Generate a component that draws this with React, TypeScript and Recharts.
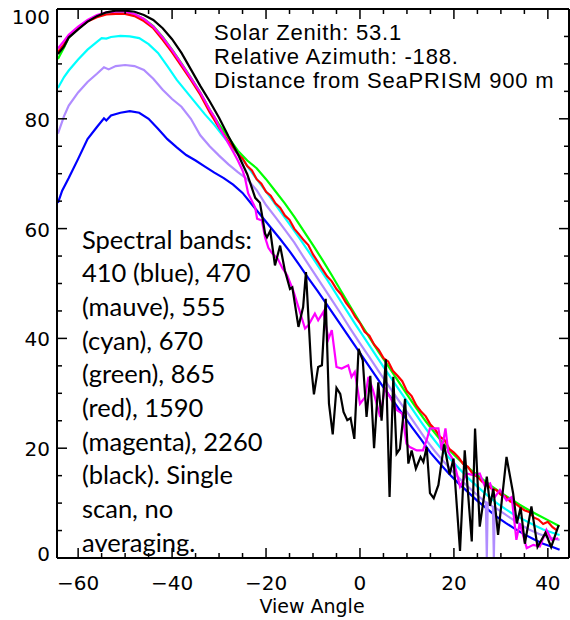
import { Line, LineChart, XAxis, YAxis } from 'recharts'

type Pt = [number, number]

// [view angle, radiance %], one list per band
const blue410: Pt[] = [
  [-64.3, 64.7], [-63.4, 66.9], [-62, 69.2], [-60, 72.7], [-58, 76.3], [-56, 78.5], [-54.5, 80.1],
  [-54, 79.7], [-53, 80.6], [-51, 81.1], [-49, 81.4], [-47, 81.1], [-45, 80], [-43, 78.2], [-41, 76.3],
  [-39, 74.8], [-37, 73.4], [-35, 72.4], [-33, 71.3], [-31, 70.2], [-29, 69.2], [-27, 68], [-25, 66.5],
  [-23, 64.4], [-21, 62.3], [-19, 60.2], [-17, 58.1], [-15, 55.9], [-13, 53.5], [-11, 51], [-9, 48.6],
  [-7, 46.1], [-5, 43.6], [-3, 41.1], [-1, 38.6], [1, 36.1], [3, 33.6], [5, 31.1], [7, 28.7], [9, 26.3],
  [11, 23.9], [13, 21.6], [15, 19.2], [17, 17.2], [19, 15.3], [21, 13.6], [23, 12], [25, 10.4], [27, 9],
  [29, 7.6], [31, 6.4], [33, 5.3], [35, 4.3], [37, 3.4], [39, 2.6], [41, 2], [42.5, 1.5],
]

const mauve470: Pt[] = [
  [-64.3, 77.3], [-63, 80.5], [-62, 82.4], [-60, 84.8], [-58, 86.7], [-56, 88.2], [-54.5, 89.4],
  [-53.5, 89], [-52, 89.6], [-50, 89.8], [-48, 89.6], [-46, 88.9], [-44, 87.3], [-42, 85.3], [-40, 83.6],
  [-38, 82.2], [-36, 80], [-34, 77], [-32, 75], [-30, 73.3], [-28, 71.7], [-26, 70.3], [-24, 69],
  [-22, 67], [-20, 64.3], [-18, 62.1], [-16, 59.8], [-14, 57.5], [-12, 54.8], [-10, 52.2], [-8, 49.6],
  [-6, 47], [-4, 44.4], [-2, 41.7], [0, 39.1], [2, 36.6], [4, 34], [6, 31.5], [8, 29], [10, 26.6],
  [12, 24.1], [14, 21.6], [16, 19.4], [18, 17.4], [20, 15.5], [22, 13.8], [24, 12.2], [26, 10.7],
  [26.8, 10.1], [27, 0], [27.2, 10], [28, 9.5], [28.3, 9.3], [28.5, 0], [28.7, 9.2], [30, 8.5], [32, 7.3],
  [34, 6.2], [36, 5.2], [38, 4.4], [40, 3.8], [42.5, 3.3],
]

const cyan555: Pt[] = [
  [-64.3, 85.6], [-63, 87.6], [-62, 88.8], [-60, 90.8], [-58, 92.6], [-56, 94], [-55, 94.7], [-54, 94.6],
  [-53, 94.9], [-51, 95.1], [-49, 95], [-47, 94.7], [-45, 93.6], [-43, 92], [-41, 89.6], [-39, 87.1],
  [-37, 85], [-35, 82.9], [-33, 80.8], [-31, 78.9], [-29, 76.7], [-27, 74.6], [-25, 72.6], [-23, 70.2],
  [-21, 67.9], [-19, 65.6], [-17, 63.2], [-15, 60.8], [-13, 58.4], [-11, 55.9], [-9, 53.3], [-7, 50.7],
  [-5, 48], [-3, 45.3], [-1, 42.6], [1, 40], [3, 37.4], [5, 34.8], [7, 32.3], [9, 29.8], [11, 27.3],
  [13, 24.8], [15, 22.4], [17, 20.2], [19, 18.2], [21, 16.4], [23, 14.6], [25, 13], [27, 11.5],
  [29, 10.1], [31, 8.9], [33, 7.8], [35, 6.9], [37, 6], [39, 5.2], [41, 4.6], [42.5, 4.2],
]

const green670: Pt[] = [
  [-64.3, 90.9], [-63, 93], [-62, 94.8], [-60, 96.5], [-58, 97.8], [-56, 98.7], [-54, 99.2], [-52, 99.4],
  [-50, 99.4], [-48, 99], [-46, 98.2], [-44, 96.9], [-42, 94.9], [-40, 92.6], [-38, 90.1], [-36, 87.5],
  [-34, 84.8], [-32, 81.7], [-30, 79], [-28, 76.6], [-26, 74.2], [-24, 72.4], [-22, 71], [-20, 69],
  [-18, 66.8], [-16, 64.6], [-14, 62.2], [-12, 59.6], [-10, 57], [-8, 54.3], [-6, 51.5], [-4, 48.6],
  [-2, 45.7], [0, 42.9], [2, 40.2], [4, 37.5], [6, 35], [8, 32.4], [10, 29.8], [12, 27.3], [14, 24.9],
  [16, 22.7], [18, 20.6], [20, 18.8], [22, 17.2], [24, 15.8], [26, 14.4], [28, 13.1], [30, 11.9],
  [32, 10.8], [34, 9.7], [36, 8.7], [38, 7.8], [40, 6.9], [42.5, 5.8],
]

const red865: Pt[] = [
  [-64.3, 92.2], [-63, 93.6], [-62, 95], [-60, 96.5], [-58, 97.7], [-56, 98.5], [-54, 99], [-52, 99.1],
  [-50, 99.1], [-48, 98.7], [-46, 97.8], [-44, 96.5], [-42, 94.4], [-40, 92.1], [-38, 89.6], [-36, 87.1],
  [-34, 84.4], [-32, 81.2], [-30, 78.4], [-28, 75.9], [-27, 74.8], [-26, 73.6], [-25, 72.8], [-24, 71.4],
  [-23, 70.6], [-22, 69], [-21, 68.2], [-20, 66.7], [-19, 66], [-18, 64.6], [-17, 63.8], [-16, 62.4],
  [-15, 61.6], [-14, 60], [-13, 59], [-12, 57.9], [-11, 57], [-10, 55.3], [-9, 54], [-8, 52.6], [-7, 51.3],
  [-6, 50.4], [-5, 49], [-4, 48], [-3, 46.5], [-2, 45.4], [-1, 43.9], [0, 42.8], [1, 41.2], [2, 40.5],
  [3, 38.9], [4, 37.9], [5, 36.4], [6, 35.8], [7, 34.1], [8, 33.2], [9, 32.2], [10, 30.4], [11, 29.5],
  [12, 27.8], [13, 26.7], [14, 25.8], [15, 24.3], [16, 23.4], [17, 22.1], [18, 21.5], [19, 19.9],
  [20, 19.2], [21, 18.3], [22, 17.1], [23, 16.6], [24, 15.3], [25, 14.8], [26, 13.9], [27, 13.4],
  [28, 12.6], [29, 12.4], [30, 11.5], [31, 11.2], [32, 10.3], [33, 10], [34, 9.3], [35, 8.7], [36, 8.4],
  [37, 7.4], [38, 7], [39, 6.2], [40, 6.6], [41, 5.6], [42, 5],
]

const magenta1590: Pt[] = [
  [-64.3, 92.8], [-63, 94.2], [-62, 95.3], [-60, 96.8], [-58, 98], [-56, 98.9], [-54, 99.4], [-52, 99.5],
  [-50, 99.5], [-48, 99.1], [-46, 98.2], [-44, 96.8], [-42, 94.8], [-40, 92.5], [-38, 90], [-36, 87.4],
  [-34, 84.8], [-32, 81.7], [-30.9, 80.2], [-30, 78.6], [-29, 77], [-28, 75.5], [-27, 74], [-26, 72.4],
  [-25, 70.6], [-24.5, 69.3], [-23.8, 66.4], [-22.3, 63.8], [-21.9, 61.8], [-20.9, 61.5], [-20.2, 58.4],
  [-19.5, 56.5], [-18.7, 55.5], [-17.5, 54.5], [-16.5, 52.8], [-15.5, 51.5], [-14.9, 50.2], [-14.2, 48.7],
  [-13.1, 45.7], [-11.7, 41.8], [-11, 42.4], [-9.6, 44.5], [-8.9, 43.3], [-7.8, 44.8], [-6.7, 39.9],
  [-6, 41.5], [-5, 34.8], [-3.9, 34.5], [-2.5, 35.1], [-1.8, 33], [-1.1, 33.9], [0, 28.1], [1.1, 29.3],
  [1.8, 33], [2.8, 30.5], [4.3, 25.7], [5.3, 30.9], [6.4, 29.3], [7.9, 26.9], [9, 26.3], [9.9, 20.8],
  [10.6, 20.2], [12.1, 19.6], [13.4, 19.6], [14.2, 21.5], [14.9, 23.6], [16.7, 23.6], [17.4, 19.6],
  [18.2, 23.6], [18.8, 19.3], [19.9, 17.8], [21.3, 13], [22.7, 15.4], [24.1, 15.1], [25.5, 15.4],
  [26.6, 13], [27.7, 13.6], [28.7, 11.1], [29.8, 12.4], [31.2, 10.5], [32.3, 11.1], [33.3, 3.3],
  [34, 6.3], [35.5, 1.8], [36.9, 2.4], [38.3, 2.1], [39.7, 5.1], [40.8, 3.3], [42.2, 3.6],
]

const black2260: Pt[] = [
  [-64.3, 91.8], [-63, 93.2], [-62, 94.8], [-60, 96.3], [-58, 97.7], [-56, 98.7], [-54, 99.4], [-52, 99.7],
  [-50, 99.7], [-48, 99.5], [-46, 98.9], [-44, 98], [-42, 96.5], [-40, 94.5], [-38, 92], [-36, 89],
  [-34, 86], [-32, 83.2], [-30, 80.2], [-28, 76.8], [-26, 73.6], [-24, 69.9], [-22.3, 65.6], [-21.3, 64.7],
  [-20.9, 62.7], [-20.2, 59.1], [-19.8, 58.4], [-19.1, 59.6], [-18.1, 53.3], [-17, 56.9], [-16, 52.4],
  [-14.9, 49], [-14.4, 49.3], [-13.1, 42.1], [-12.1, 45.7], [-11.5, 52.1], [-10.4, 35], [-9.8, 29.8],
  [-8.9, 34.8], [-8.1, 35.1], [-7.3, 47.2], [-6.6, 28.1], [-5.8, 22.5], [-5, 31], [-4.2, 29.9],
  [-3.5, 26.6], [-2.7, 25.1], [-2, 25.5], [-1.2, 21.7], [-0.3, 38.1], [0.6, 36], [1.4, 25.7], [2.2, 33.2],
  [3, 20], [3.9, 32], [4.6, 25], [5.5, 36.2], [6.3, 11.1], [7.1, 33], [7.8, 19], [8.5, 19.9], [9.6, 29],
  [10.3, 17.2], [11, 19.6], [11.9, 16.3], [12.9, 18.4], [13.5, 17.5], [14.2, 20.2], [14.9, 11.8],
  [15.7, 10.9], [16.7, 13.3], [17.9, 20.7], [19.1, 15.2], [19.9, 18.1], [21.3, 1.3], [22.3, 19.6],
  [23.8, 3], [24.5, 23.6], [25.5, 5.7], [27, 14.8], [27.7, 9.5], [28.4, 12.6], [29.4, 4.2], [31.2, 18.4],
  [32.6, 11.8], [33.4, 6.3], [34.2, 9.2], [35.1, 2.6], [36.5, 9.4], [37.8, 2], [39.5, 4.6], [40.7, 2],
  [42.3, 6],
]

const bands = [
  { name: '410', color: '#0000ff', points: blue410 },
  { name: '470', color: '#b08cff', points: mauve470 },
  { name: '555', color: '#00ffff', points: cyan555 },
  { name: '670', color: '#00ff00', points: green670 },
  { name: '865', color: '#ff0000', points: red865 },
  { name: '1590', color: '#ff00ff', points: magenta1590 },
  { name: '2260', color: '#000000', points: black2260 },
]

const xTicks = [-60, -55, -50, -45, -40, -35, -30, -25, -20, -15, -10, -5, 0, 5, 10, 15, 20, 25, 30, 35, 40]
const yTicks = [0, 5, 10, 15, 20, 25, 30, 35, 40, 45, 50, 55, 60, 65, 70, 75, 80, 85, 90, 95, 100]

const infoLines = ['Solar Zenith: 53.1', 'Relative Azimuth: -188.', 'Distance from SeaPRISM 900 m']
const noteLines = [
  'Spectral bands:',
  '410 (blue), 470',
  '(mauve), 555',
  '(cyan), 670',
  '(green), 865',
  '(red), 1590',
  '(magenta), 2260',
  '(black). Single',
  'scan, no',
  'averaging.',
]

const tickFont = 'DejaVu Sans, sans-serif'
const isMajor = (v: number) => Math.abs(v % 20) === 0
const fmtAngle = (v: number) => (v < 0 ? `\u2212${-v}` : String(v))

// IDL style: ticks point into the plot, labels only on the 20s
function BottomTick({ x, y, payload }: any) {
  const v = payload.value
  return (
    <g>
      <line x1={x} y1={y} x2={x} y2={y - (isMajor(v) ? 10 : 5)} stroke="#000" strokeWidth={1.5} />
      {isMajor(v) && (
        <text x={x} y={y + 32} textAnchor="middle" fontFamily={tickFont} fontSize={20} fill="#000">
          {fmtAngle(v)}
        </text>
      )}
    </g>
  )
}

function TopTick({ x, y, payload }: any) {
  const v = payload.value
  return <line x1={x} y1={y} x2={x} y2={y + (isMajor(v) ? 10 : 5)} stroke="#000" strokeWidth={1.5} />
}

function LeftTick({ x, y, payload }: any) {
  const v = payload.value
  const dy = v === 100 ? 15 : v === 0 ? 3 : 8
  return (
    <g>
      <line x1={x} y1={y} x2={x + (isMajor(v) ? 10 : 5)} y2={y} stroke="#000" strokeWidth={1.5} />
      {isMajor(v) && (
        <text x={x - 7} y={y + dy} textAnchor="end" fontFamily={tickFont} fontSize={20} fill="#000">
          {v}
        </text>
      )}
    </g>
  )
}

function RightTick({ x, y, payload }: any) {
  const v = payload.value
  return <line x1={x} y1={y} x2={x - (isMajor(v) ? 10 : 5)} y2={y} stroke="#000" strokeWidth={1.5} />
}

export default function App() {
  return (
    <div style={{ position: 'absolute', left: 0, top: 0, width: 570, height: 620, background: '#fff' }}>
      <LineChart width={570} height={620} margin={{ top: 8, right: 0, bottom: 32, left: 0 }}>
        <XAxis
          type="number"
          dataKey="angle"
          domain={[-64.5, 44.5]}
          ticks={xTicks}
          allowDataOverflow
          height={30}
          tickSize={0}
          tickMargin={0}
          axisLine={{ stroke: '#000', strokeWidth: 2 }}
          tick={BottomTick}
          interval={0}
        />
        <XAxis
          xAxisId="top"
          orientation="top"
          type="number"
          dataKey="angle"
          domain={[-64.5, 44.5]}
          ticks={xTicks}
          allowDataOverflow
          height={1}
          tickSize={0}
          tickMargin={0}
          axisLine={{ stroke: '#000', strokeWidth: 2 }}
          tick={TopTick}
          interval={0}
        />
        <YAxis
          type="number"
          domain={[0, 100]}
          ticks={yTicks}
          allowDataOverflow
          width={57}
          tickSize={0}
          tickMargin={0}
          axisLine={{ stroke: '#000', strokeWidth: 2 }}
          tick={LeftTick}
          interval={0}
        />
        <YAxis
          yAxisId="right"
          orientation="right"
          type="number"
          domain={[0, 100]}
          ticks={yTicks}
          allowDataOverflow
          width={1}
          tickSize={0}
          tickMargin={0}
          axisLine={{ stroke: '#000', strokeWidth: 2 }}
          tick={RightTick}
          interval={0}
        />
        {bands.map((b) => (
          <Line
            key={b.name}
            data={b.points.map(([angle, value]) => ({ angle, value }))}
            dataKey="value"
            type="linear"
            stroke={b.color}
            strokeWidth={2.2}
            dot={false}
            isAnimationActive={false}
          />
        ))}
      </LineChart>
      <svg
        width={570}
        height={620}
        style={{ position: 'absolute', left: 0, top: 0, pointerEvents: 'none' }}
      >
        {infoLines.map((t, i) => (
          <text
            key={t}
            x={214}
            y={40 + i * 24}
            fontFamily="Liberation Sans, Arial"
            fontSize={22}
            letterSpacing={0.8}
            fill="#000"
          >
            {t}
          </text>
        ))}
        {noteLines.map((t, i) => (
          <text key={t} x={82} y={248.5 + i * 33.7} fontFamily="Lato" fontSize={25.5} fill="#000">
            {t}
          </text>
        ))}
        <text x={312} y={613} textAnchor="middle" fontFamily={tickFont} fontSize={19} fill="#000">
          View Angle
        </text>
      </svg>
    </div>
  )
}
